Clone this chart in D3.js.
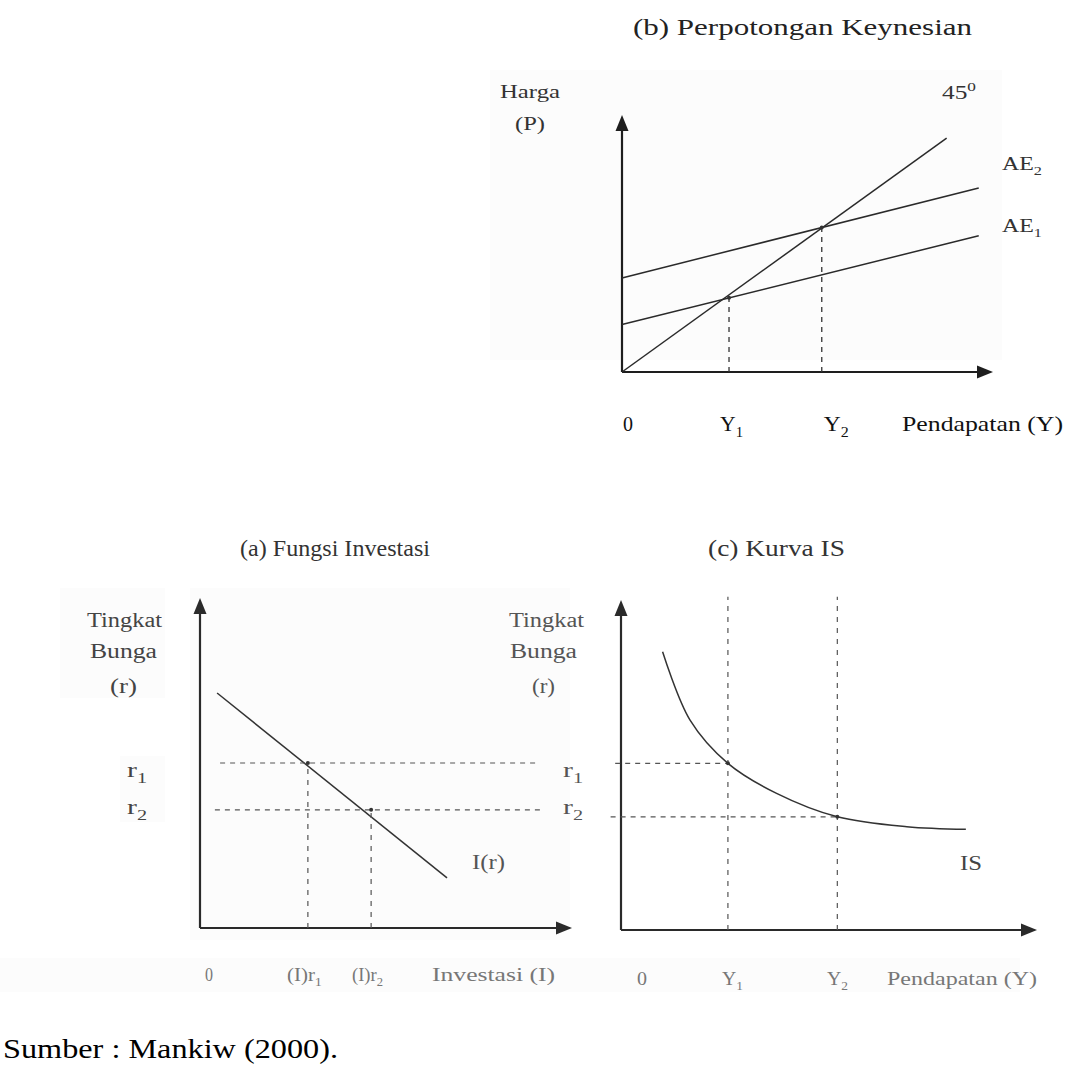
<!DOCTYPE html>
<html>
<head>
<meta charset="utf-8">
<script src="https://cdn.jsdelivr.net/npm/d3@7"></script>
<style>
  html, body { margin: 0; padding: 0; background: #fff; }
  svg { display: block; }
</style>
</head>
<body>
<script>
// ---------------- DATA ----------------
// Panel (b) Perpotongan Keynesian
const line45 = [[0, 0], [91, 91]];
const ae1 = [[0, 18.5], [100, 53]];
const ae2 = [[0, 36.6], [100, 71.6]];
const incomeB = [30, 56];              // Y1, Y2
const equilibriumB = [28.9, 56.2];     // heights where the dashed Y lines stop
// Panel (a) Fungsi Investasi
const investLine = [[4.6, 71.2], [66.4, 15.2]];
const rateA = [50, 35.8];              // r1, r2
const investLevels = [29, 46];         // (I)r1, (I)r2
// Panel (c) Kurva IS
const isCurve = [[10, 84.3], [16.6, 63.6], [25.7, 50.5], [37.4, 41.4], [52, 34.3], [68.7, 31.3], [82.9, 30.5]];
const rateC = [50.5, 34.3];
const incomeC = [25.7, 52];
// Labels
const titles = ["(b) Perpotongan Keynesian", "(a) Fungsi Investasi", "(c) Kurva IS"];
const axisYLabelB = ["Harga", "(P)"];
const axisYLabelR = ["Tingkat", "Bunga", "(r)"];
const tickLabelsB = ["0", "Y_1", "Y_2", "Pendapatan (Y)"];
const tickLabelsA = ["0", "(I)r_1", "(I)r_2", "Investasi (I)"];
const tickLabelsC = ["0", "Y_1", "Y_2", "Pendapatan (Y)"];
const rateLabels = ["r_1", "r_2"];
const curveLabels = ["45^0", "AE_2", "AE_1", "I(r)", "IS"];
const source = "Sumber : Mankiw (2000).";

// ---------------- LAYOUT ----------------
const W = 1067, H = 1066;
const FONT = "'Liberation Serif', 'Times New Roman', Times, serif";
const svg = d3.select("body").append("svg").attr("width", W).attr("height", H);

// very faint scan-paper patches
const patches = [
  [490, 70, 512, 290], [60, 588, 105, 110], [120, 756, 45, 66],
  [190, 588, 380, 352], [0, 958, 1020, 34]
];
svg.selectAll("rect.patch").data(patches).join("rect")
  .attr("x", d => d[0]).attr("y", d => d[1]).attr("width", d => d[2]).attr("height", d => d[3])
  .attr("fill", "#fcfcfc");

const xB = d3.scaleLinear().domain([0, 104]).range([622, 993]);
const yB = d3.scaleLinear().domain([0, 100]).range([372, 115]);
const xA = d3.scaleLinear().domain([0, 100]).range([200, 572]);
const yA = d3.scaleLinear().domain([0, 100]).range([928, 598]);
const xC = d3.scaleLinear().domain([0, 100]).range([621, 1037]);
const yC = d3.scaleLinear().domain([0, 100]).range([930, 600]);

function label(str, x, y, w, fs, fill, anchor) {
  const t = svg.append("text").attr("x", x).attr("y", y)
    .attr("font-family", FONT)
    .attr("font-size", fs).attr("fill", fill || "#222")
    .attr("text-anchor", anchor || "start");
  const m = str.match(/^(.*?)([_^])(.)$/);
  if (m) {
    t.append("tspan").text(m[1]);
    t.append("tspan").text(m[3]).attr("font-size", fs * 0.68)
      .attr("dy", m[2] === "_" ? fs * 0.28 : -fs * 0.42);
  } else {
    t.text(str);
  }
  if (w) t.attr("textLength", w).attr("lengthAdjust", "spacingAndGlyphs");
  return t;
}

function axes(x, y, color) {
  const x0 = x.range()[0], x1 = x.range()[1], y0 = y.range()[0], y1 = y.range()[1];
  const g = svg.append("g");
  g.append("line").attr("x1", x0).attr("y1", y0).attr("x2", x1 - 12).attr("y2", y0)
    .attr("stroke", color).attr("stroke-width", 2.2);
  g.append("line").attr("x1", x0).attr("y1", y0).attr("x2", x0).attr("y2", y1 + 12)
    .attr("stroke", color).attr("stroke-width", 2.2);
  g.append("path").attr("d", `M${x1},${y0} L${x1 - 16},${y0 - 6.5} L${x1 - 16},${y0 + 6.5} Z`).attr("fill", color);
  g.append("path").attr("d", `M${x0},${y1} L${x0 - 6.5},${y1 + 16} L${x0 + 6.5},${y1 + 16} Z`).attr("fill", color);
}

function path(pts, x, y, color, width, dash, curve) {
  const ln = d3.line().x(d => x(d[0])).y(d => y(d[1]));
  if (curve) ln.curve(curve);
  svg.append("path").attr("d", ln(pts)).attr("fill", "none")
    .attr("stroke", color).attr("stroke-width", width)
    .attr("stroke-dasharray", dash || null);
}
const dot = (x, y, c) => svg.append("circle").attr("cx", x).attr("cy", y).attr("r", 2).attr("fill", c);

// ---------------- PANEL (b) ----------------
label(titles[0], 633, 35, 339, 23, "#222");
label(axisYLabelB[0], 500, 98, 60, 19, "#333");
label(axisYLabelB[1], 515, 130, 30, 19, "#333");
axes(xB, yB, "#1e1e1e");
path(line45, xB, yB, "#2a2a2a", 1.5);
path(ae1, xB, yB, "#2a2a2a", 1.5);
path(ae2, xB, yB, "#2a2a2a", 1.5);
incomeB.forEach((v, i) => {
  path([[v, 0], [v, equilibriumB[i]]], xB, yB, "#333", 1.3, "5,5");
  dot(xB(v), yB(equilibriumB[i]), "#333");
});
label(curveLabels[0], 942, 99, 34, 19, "#333");
label(curveLabels[1], 1002, 170, 40, 19, "#333");
label(curveLabels[2], 1002, 232, 40, 19, "#333");
label(tickLabelsB[0], xB(0) + 1, 431, 10, 21, "#111");
label(tickLabelsB[1], xB(incomeB[0]) - 9, 431, 23, 21, "#111");
label(tickLabelsB[2], xB(incomeB[1]) + 2, 431, 25, 21, "#111");
label(tickLabelsB[3], 902, 431, 161, 21, "#111");

// ---------------- PANEL (a) ----------------
label(titles[1], 240, 556, 190, 23, "#333");
label(axisYLabelR[0], 87, 627, 75, 20, "#444");
label(axisYLabelR[1], 90, 658, 67, 20, "#444");
label(axisYLabelR[2], 110, 693, 27, 20, "#444");
label(rateLabels[0], 127, 777, 20, 20, "#444");
label(rateLabels[1], 127, 814, 20, 20, "#444");
axes(xA, yA, "#2a2a2a");
path(investLine, xA, yA, "#333", 1.5);
rateA.forEach((r, i) => path([[i === 0 ? 5.4 : 4, r], [91.4, r]], xA, yA, "#555", 1.2, "5,5"));
investLevels.forEach((v, i) => {
  path([[v, 0], [v, rateA[i]]], xA, yA, "#555", 1.2, "5,6");
  dot(xA(v), yA(rateA[i]), "#333");
});
label(curveLabels[3], 472, 869, 33, 20, "#555");
label(tickLabelsA[0], 205, 981, 8, 18, "#777");
label(tickLabelsA[1], 287, 981, 35, 18, "#777");
label(tickLabelsA[2], 352, 981, 31, 18, "#777");
label(tickLabelsA[3], 432, 981, 123, 18, "#777");

// ---------------- PANEL (c) ----------------
label(titles[2], 708, 556, 137, 23, "#333");
label(axisYLabelR[0], 509, 627, 75, 20, "#555");
label(axisYLabelR[1], 510, 658, 67, 20, "#555");
label(axisYLabelR[2], 532, 693, 23, 20, "#555");
label(rateLabels[0], 563, 777, 20, 20, "#555");
label(rateLabels[1], 563, 814, 20, 20, "#555");
axes(xC, yC, "#2a2a2a");
incomeC.forEach(v => path([[v, 0], [v, 101]], xC, yC, "#555", 1.2, "5,6"));
rateC.forEach((r, i) => path([[i === 0 ? -1.4 : -2.5, r], [incomeC[i], r]], xC, yC, "#555", 1.2, "5,5"));
path(isCurve, xC, yC, "#333", 1.5, null, d3.curveCatmullRom.alpha(0.5));
incomeC.forEach((v, i) => dot(xC(v), yC(rateC[i]), "#333"));
label(curveLabels[4], 960, 870, 22, 20, "#444");
label(tickLabelsC[0], 637, 985, 10, 19, "#777");
label(tickLabelsC[1], 722, 985, 21, 19, "#777");
label(tickLabelsC[2], 827, 985, 21, 19, "#777");
label(tickLabelsC[3], 887, 985, 150, 19, "#777");

// ---------------- SOURCE ----------------
label(source, 3, 1058, 335, 28, "#000");
</script>
</body>
</html>
